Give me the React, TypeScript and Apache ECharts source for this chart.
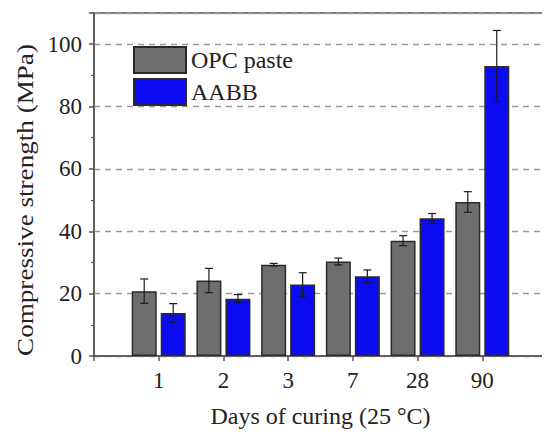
import React, { useEffect, useRef } from "react";
import * as echarts from "echarts";

const categories = ["1", "2", "3", "7", "28", "90"];
const opcValues = [20.8, 24.2, 29.3, 30.3, 37.0, 49.4];
const opcErrors = [3.9, 3.9, 0.4, 1.1, 1.6, 3.3];
const aabbValues = [13.8, 18.4, 22.9, 25.6, 44.2, 93.0];
const aabbErrors = [3.0, 1.3, 3.8, 2.0, 1.5, 11.4];
const yTickValues = { min: 0, max: 110, interval: 20 };

const FONT = "Liberation Serif";
const BAR_W = 25;
const GAP = 4;
const TEXT = "#222";
const AXIS = "#555";

function errorSeries(name: string, values: number[], errors: number[], dir: number) {
  const shift = dir * (BAR_W / 2 + GAP / 2);
  return {
    name,
    type: "custom",
    z: 5,
    data: values.map((v, i) => [i + 1, v, errors[i]]),
    renderItem: (params: any, api: any) => {
      const x = api.value(0);
      const y = api.value(1);
      const e = api.value(2);
      const top = api.coord([x, y + e]);
      const bot = api.coord([x, y - e]);
      const cx = top[0] + shift;
      const cap = 4;
      const style = { stroke: "#1a1a1a", lineWidth: 1.2 };
      return {
        type: "group",
        children: [
          { type: "line", shape: { x1: cx, y1: top[1], x2: cx, y2: bot[1] }, style },
          { type: "line", shape: { x1: cx - cap, y1: top[1], x2: cx + cap, y2: top[1] }, style },
          { type: "line", shape: { x1: cx - cap, y1: bot[1], x2: cx + cap, y2: bot[1] }, style },
        ],
      };
    },
  };
}

export default function App() {
  const ref = useRef<HTMLDivElement>(null);
  useEffect(() => {
    if (!ref.current) return;
    const chart = echarts.init(ref.current, null, { renderer: "svg" });
    chart.setOption({
      animation: false,
      backgroundColor: "#fff",
      grid: {
        left: 94,
        right: -2,
        top: 13,
        bottom: 81,
        show: true,
        borderColor: AXIS,
        borderWidth: 1.5,
        backgroundColor: "transparent",
      },
      legend: {
        data: ["OPC paste", "AABB"],
        orient: "vertical",
        left: 128,
        top: 41,
        itemWidth: 52,
        itemHeight: 26,
        itemGap: 4,
        icon: "rect",
        textStyle: { fontFamily: FONT, fontSize: 24, color: TEXT },
      },
      xAxis: {
        type: "value",
        min: 0,
        max: 7,
        interval: 1,
        axisLine: { show: true, lineStyle: { color: AXIS, width: 1.5 } },
        axisTick: { show: true, inside: false, length: 5, lineStyle: { color: AXIS, width: 1.5 } },
        splitLine: { show: false },
        axisLabel: {
          fontFamily: FONT,
          fontSize: 23,
          color: TEXT,
          margin: 13,
          formatter: (v: number) => categories[v - 1] ?? "",
        },
        name: "Days of curing (25 °C)",
        nameLocation: "middle",
        nameGap: 48,
        nameTextStyle: { fontFamily: FONT, fontSize: 24, color: TEXT },
      },
      yAxis: [
        {
          type: "value",
          min: yTickValues.min,
          max: yTickValues.max,
          interval: yTickValues.interval,
          axisLine: { show: true, lineStyle: { color: AXIS, width: 1.5 } },
          axisTick: { show: true, inside: false, length: 5, lineStyle: { color: AXIS, width: 1.5 } },
          minorTick: { show: true, splitNumber: 2, length: 3, lineStyle: { color: AXIS, width: 1.2 } },
          axisLabel: {
            fontFamily: FONT,
            fontSize: 23,
            color: TEXT,
            margin: 12,
            showMaxLabel: false,
            formatter: (v: number) => (v > 100 ? "" : String(v)),
          },
          splitLine: {
            show: true,
            lineStyle: { color: "#9a9a9a", width: 1.3, type: [6, 5] },
          },
        },
        {
          type: "value",
          position: "right",
          min: yTickValues.min,
          max: yTickValues.max,
          interval: yTickValues.interval,
          axisLine: { show: true, lineStyle: { color: AXIS, width: 1.5 } },
          axisTick: { show: true, inside: true, length: 5, lineStyle: { color: AXIS, width: 1.5 } },
          minorTick: { show: true, splitNumber: 2, length: 3, lineStyle: { color: AXIS, width: 1.2 } },
          axisLabel: { show: false },
          splitLine: { show: false },
        },
      ],
      graphic: [
        {
          type: "text",
          x: 25,
          y: 200,
          rotation: Math.PI / 2,
          scaleX: 1.18,
          style: {
            text: "Compressive strength (MPa)",
            fontFamily: FONT,
            fontSize: 23,
            fill: TEXT,
            align: "center",
            verticalAlign: "middle",
          },
        },
      ],
      series: [
        {
          name: "OPC paste",
          type: "bar",
          barWidth: BAR_W,
          barGap: `${(GAP / BAR_W) * 100}%`,
          data: opcValues.map((v, i) => [i + 1, v]),
          itemStyle: { color: "#6e6e6e", borderColor: "#2a2a2a", borderWidth: 1.5 },
        },
        {
          name: "AABB",
          type: "bar",
          barWidth: BAR_W,
          barGap: `${(GAP / BAR_W) * 100}%`,
          data: aabbValues.map((v, i) => [i + 1, v]),
          itemStyle: { color: "#0c0cf2", borderColor: "#2a2a2a", borderWidth: 1.5 },
        },
        errorSeries("opc-err", opcValues, opcErrors, -1),
        errorSeries("aabb-err", aabbValues, aabbErrors, 1),
      ],
    });
    return () => chart.dispose();
  }, []);
  return <div ref={ref} style={{ width: 550, height: 437, margin: -8 }} />;
}
